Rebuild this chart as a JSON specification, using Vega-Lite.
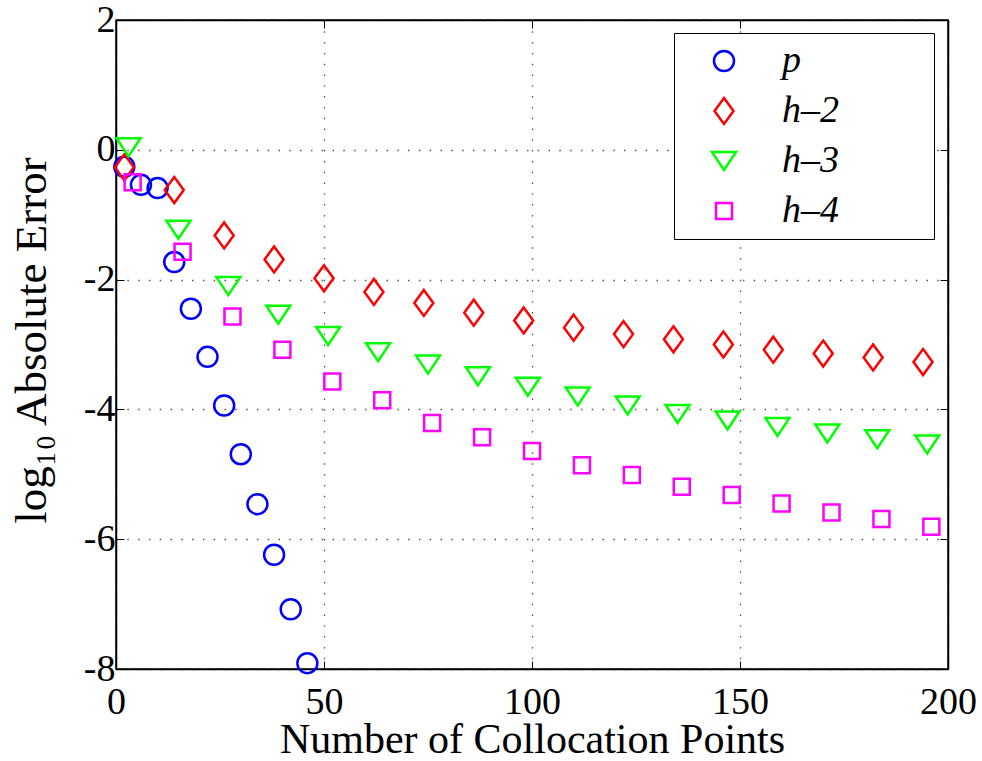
{
  "$schema": "https://vega.github.io/schema/vega-lite/v6.json",
  "width": 832,
  "height": 649,
  "autosize": "none",
  "padding": {"left": 116, "top": 20, "right": 34, "bottom": 92},
  "background": "white",
  "config": {
    "font": "Liberation Serif",
    "view": {"stroke": "black", "strokeWidth": 1.5},
    "axis": {
      "domainColor": "black",
      "domainWidth": 1.5,
      "tickColor": "black",
      "tickWidth": 1,
      "tickSize": -8,
      "labelFlush": false,
      "labelFont": "Liberation Serif",
      "labelColor": "black",
      "labelFontSize": 38,
      "titleFont": "Liberation Serif",
      "titleColor": "black",
      "titleFontSize": 42,
      "titleFontWeight": "normal",
      "gridColor": "#555555",
      "gridDash": [1.5, 9.3],
      "gridWidth": 1.3,
      "gridOpacity": 1
    }
  },
  "data": {
    "values": [
      {"s": "p", "x": 2, "y": -0.26},
      {"s": "p", "x": 6, "y": -0.54},
      {"s": "p", "x": 10, "y": -0.59},
      {"s": "p", "x": 14, "y": -1.73},
      {"s": "p", "x": 18, "y": -2.45},
      {"s": "p", "x": 22, "y": -3.19},
      {"s": "p", "x": 26, "y": -3.94},
      {"s": "p", "x": 30, "y": -4.69},
      {"s": "p", "x": 34, "y": -5.46},
      {"s": "p", "x": 38, "y": -6.24},
      {"s": "p", "x": 42, "y": -7.08},
      {"s": "p", "x": 46, "y": -7.91},
      {"s": "h–2", "x": 2, "y": -0.27},
      {"s": "h–2", "x": 14, "y": -0.62},
      {"s": "h–2", "x": 26, "y": -1.32},
      {"s": "h–2", "x": 38, "y": -1.69},
      {"s": "h–2", "x": 50, "y": -1.98},
      {"s": "h–2", "x": 62, "y": -2.19},
      {"s": "h–2", "x": 74, "y": -2.36},
      {"s": "h–2", "x": 86, "y": -2.51},
      {"s": "h–2", "x": 98, "y": -2.63},
      {"s": "h–2", "x": 110, "y": -2.74},
      {"s": "h–2", "x": 122, "y": -2.84},
      {"s": "h–2", "x": 134, "y": -2.92},
      {"s": "h–2", "x": 146, "y": -3.0},
      {"s": "h–2", "x": 158, "y": -3.08},
      {"s": "h–2", "x": 170, "y": -3.14},
      {"s": "h–2", "x": 182, "y": -3.2},
      {"s": "h–2", "x": 194, "y": -3.27},
      {"s": "h–3", "x": 3, "y": 0.04},
      {"s": "h–3", "x": 15, "y": -1.23},
      {"s": "h–3", "x": 27, "y": -2.1},
      {"s": "h–3", "x": 39, "y": -2.54},
      {"s": "h–3", "x": 51, "y": -2.87},
      {"s": "h–3", "x": 63, "y": -3.12},
      {"s": "h–3", "x": 75, "y": -3.31},
      {"s": "h–3", "x": 87, "y": -3.49},
      {"s": "h–3", "x": 99, "y": -3.65},
      {"s": "h–3", "x": 111, "y": -3.8},
      {"s": "h–3", "x": 123, "y": -3.94},
      {"s": "h–3", "x": 135, "y": -4.07},
      {"s": "h–3", "x": 147, "y": -4.17},
      {"s": "h–3", "x": 159, "y": -4.27},
      {"s": "h–3", "x": 171, "y": -4.37},
      {"s": "h–3", "x": 183, "y": -4.46},
      {"s": "h–3", "x": 195, "y": -4.54},
      {"s": "h–4", "x": 4, "y": -0.5},
      {"s": "h–4", "x": 16, "y": -1.57},
      {"s": "h–4", "x": 28, "y": -2.57},
      {"s": "h–4", "x": 40, "y": -3.08},
      {"s": "h–4", "x": 52, "y": -3.57},
      {"s": "h–4", "x": 64, "y": -3.86},
      {"s": "h–4", "x": 76, "y": -4.21},
      {"s": "h–4", "x": 88, "y": -4.43},
      {"s": "h–4", "x": 100, "y": -4.64},
      {"s": "h–4", "x": 112, "y": -4.86},
      {"s": "h–4", "x": 124, "y": -5.01},
      {"s": "h–4", "x": 136, "y": -5.19},
      {"s": "h–4", "x": 148, "y": -5.32},
      {"s": "h–4", "x": 160, "y": -5.45},
      {"s": "h–4", "x": 172, "y": -5.59},
      {"s": "h–4", "x": 184, "y": -5.69},
      {"s": "h–4", "x": 196, "y": -5.81}
    ]
  },
  "layer": [
    {
      "mark": {"type": "point", "filled": false, "strokeWidth": 2.5, "size": 400, "opacity": 1, "clip": false},
      "encoding": {
        "x": {
          "field": "x", "type": "quantitative",
          "scale": {"domain": [0, 200], "nice": false, "zero": false},
          "axis": {
            "orient": "bottom", "values": [0, 50, 100, 150, 200],
            "labelExpr": "toString(datum.value)",
            "labelPadding": 22, "grid": true,
            "title": "Number of Collocation Points", "titlePadding": -2
          }
        },
        "y": {
          "field": "y", "type": "quantitative",
          "scale": {"domain": [-8, 2], "nice": false, "zero": false},
          "axis": {
            "orient": "left", "values": [-8, -6, -4, -2, 0, 2],
            "labelExpr": "toString(datum.value)",
            "labelPadding": 9, "grid": true,
            "title": "log₁₀ Absolute Error", "titlePadding": 29,
            "titleFontSize": 45, "titleY": 320
          }
        },
        "color": {
          "field": "s", "type": "nominal",
          "scale": {"domain": ["p", "h–2", "h–3", "h–4"], "range": ["#0000ff", "#ff0000", "#00ff00", "#ff00ff"]},
          "legend": {
            "orient": "none", "legendX": 558, "legendY": 13,
            "title": null,
            "fillColor": "white", "strokeColor": "black",
            "padding": 9, "rowPadding": 12,
            "symbolSize": 400, "symbolStrokeWidth": 2.5, "symbolOffset": 22,
            "labelFontSize": 38, "labelFontStyle": "italic", "labelColor": "black",
            "labelFont": "Liberation Serif", "labelOffset": 39,
            "labelExpr": "datum.label + '\u00a0\u00a0\u00a0\u00a0\u00a0\u00a0\u00a0\u00a0\u00a0\u200b'"
          }
        },
        "shape": {
          "field": "s", "type": "nominal",
          "scale": {
            "domain": ["p", "h–2", "h–3", "h–4"],
            "range": ["circle", "M0,-1.3L0.95,0L0,1.3L-0.95,0Z", "M-1.2,-0.9L1.2,-0.9L0,0.9Z", "M-0.8,-0.8L0.8,-0.8L0.8,0.8L-0.8,0.8Z"]
          }
        }
      }
    },
    {
      "mark": {"type": "point", "opacity": 0},
      "encoding": {
        "x": {
          "field": "x", "type": "quantitative",
          "axis": {"orient": "top", "values": [0, 50, 100, 150, 200], "labels": false, "grid": false, "title": null}
        },
        "y": {
          "field": "y", "type": "quantitative",
          "axis": {"orient": "right", "values": [-8, -6, -4, -2, 0, 2], "labels": false, "grid": false, "title": null}
        }
      }
    }
  ],
  "resolve": {"axis": {"x": "independent", "y": "independent"}}
}
